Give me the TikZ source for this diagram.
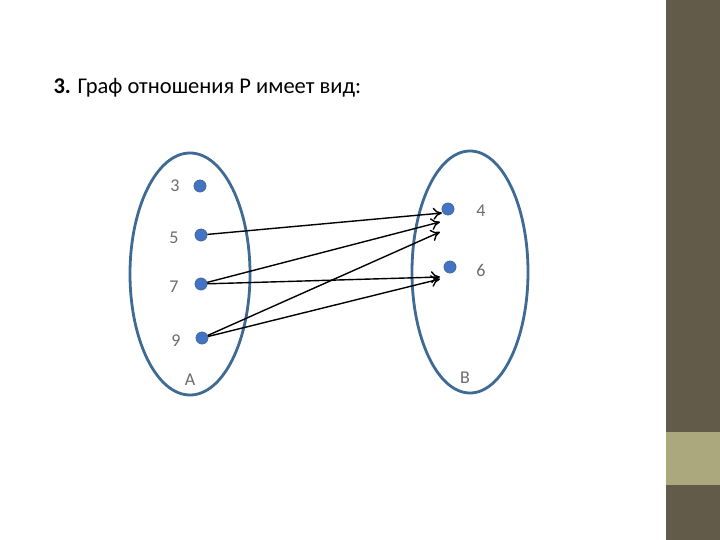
\documentclass[tikz,border=0pt]{standalone}
\usepackage{fontspec}
\setmainfont{Carlito}
\usetikzlibrary{shapes.geometric,arrows.meta}
\begin{document}
\begin{tikzpicture}[x=1pt,y=-1pt,
  setell/.style={draw=ellblue,line width=2.8pt},
  dotnode/.style={circle,fill=dotblue,draw=ellblue,line width=0.8pt,minimum size=12pt,inner sep=0pt},
  lbl/.style={text=gray!85!black,font=\fontsize{18}{18}\selectfont},
  arr/.style={->,>={To[length=9pt,width=12pt]},line width=1.4pt}]
\definecolor{ellblue}{HTML}{3F6A96}
\definecolor{dotblue}{HTML}{4472C4}
\definecolor{darkstrip}{HTML}{635B4A}
\definecolor{lightstrip}{HTML}{ABA87E}
\useasboundingbox (0,0) rectangle (720,540);
\fill[white] (0,0) rectangle (720,540);
\fill[darkstrip] (666,0) rectangle (720,540);
\fill[lightstrip] (666,432) rectangle (720,485);
\node[anchor=west,font=\fontsize{22.5}{22.5}\selectfont] (title) at (50,88) {\textbf{3.} Граф отношения P имеет вид:};
\node[setell,ellipse,minimum width=120pt,minimum height=242pt] (A) at (190,274) {};
\node[setell,ellipse,minimum width=116pt,minimum height=242pt] (B) at (470,272) {};
\node[dotnode] (a3) at (200,186) {};
\node[dotnode] (a5) at (201,235) {};
\node[dotnode] (a7) at (201,284) {};
\node[dotnode] (a9) at (202,338) {};
\node[dotnode] (b4) at (448,209) {};
\node[dotnode] (b6) at (450,267) {};
\node[lbl] (l3) at (175,186) {3};
\node[lbl] (l5) at (174,238) {5};
\node[lbl] (l7) at (174,287) {7};
\node[lbl] (l9) at (176,341) {9};
\node[lbl] (lA) at (190,380) {A};
\node[lbl] (lB) at (465,378) {B};
\node[lbl] (l4) at (481,211) {4};
\node[lbl] (l6) at (481,270) {6};
\coordinate (e1) at (442,213);
\coordinate (e2) at (440,222);
\coordinate (e3) at (440,232);
\coordinate (e4) at (440,277);
\coordinate (e5) at (440,279);
\draw[arr] (a5) -- (e1);
\draw[arr] (a7) -- (e2);
\draw[arr] (a9) -- (e3);
\draw[arr] (a7) -- (e4);
\draw[arr] (a9) -- (e5);
\end{tikzpicture}
\end{document}
